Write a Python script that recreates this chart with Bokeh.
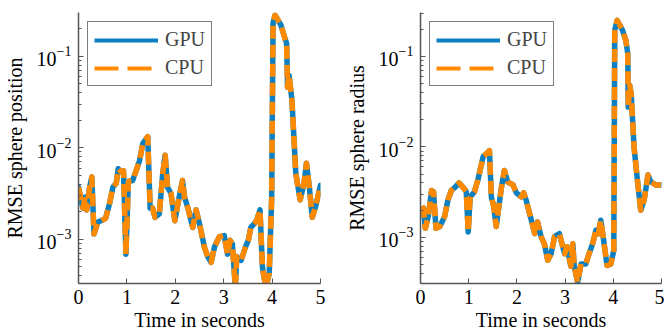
from bokeh.plotting import figure
from bokeh.layouts import row
from bokeh.models import Range1d, FixedTicker, Legend, LegendItem
from bokeh.embed import file_html
from bokeh.resources import INLINE

# ---- data ----
t_pos = [0.00, 0.09, 0.14, 0.17, 0.23, 0.275, 0.32, 0.40, 0.47, 0.56, 0.64, 0.71, 0.78, 0.82,
         0.88, 0.93, 0.98, 1.03, 1.12, 1.26, 1.33, 1.43, 1.48, 1.53, 1.58, 1.67, 1.74, 1.79,
         1.84, 1.91, 1.99, 2.08, 2.15, 2.19, 2.26, 2.36, 2.43, 2.50, 2.60, 2.67, 2.74, 2.81,
         2.91, 3.01, 3.08, 3.13, 3.18, 3.24, 3.27, 3.36, 3.45, 3.51, 3.56, 3.63, 3.68, 3.75,
         3.80, 3.87, 3.94, 3.99, 4.02, 4.06, 4.18, 4.26, 4.30, 4.32, 4.35, 4.41, 4.49, 4.58,
         4.66, 4.71, 4.77, 4.83, 4.90, 5.00]
rmse_pos = [3.7e-3, 2.2e-3, 2.9e-3, 2.1e-3, 3.7e-3, 4.8e-3, 1.15e-3, 1.55e-3, 1.6e-3, 1.7e-3,
            2.45e-3, 3.7e-3, 4.1e-3, 5.9e-3, 5.5e-3, 5.6e-3, 6.9e-4, 4.3e-3, 4.4e-3, 7.2e-3,
            1.12e-2, 1.32e-2, 2.2e-3, 2.2e-3, 1.74e-3, 1.9e-3, 5.2e-3, 8.3e-3, 3.7e-3, 3.2e-3,
            1.6e-3, 2.9e-3, 4.4e-3, 2.9e-3, 2.2e-3, 1.35e-3, 2.1e-3, 1.48e-3, 8.3e-4, 6.5e-4,
            5.6e-4, 8.3e-4, 1.07e-3, 1.1e-3, 6.9e-4, 9.8e-4, 8.9e-4, 3.0e-4, 6.5e-4, 5.9e-4,
            8.3e-4, 9.8e-4, 1.35e-3, 1.48e-3, 1.6e-3, 2.1e-3, 5.0e-4, 3.0e-4, 4.2e-4, 2.7e-3,
            0.23, 0.28, 0.22, 0.16, 0.138, 0.046, 0.062, 0.033, 5.2e-3, 2.7e-3,
            4.1e-3, 6.8e-3, 3.7e-3, 1.74e-3, 2.3e-3, 3.9e-3]

t_rad = [0.00, 0.06, 0.10, 0.16, 0.23, 0.27, 0.32, 0.40, 0.50, 0.57, 0.64, 0.72, 0.80, 0.88,
         0.95, 0.99, 1.03, 1.12, 1.19, 1.30, 1.40, 1.43, 1.47, 1.52, 1.57, 1.68, 1.74, 1.81,
         1.92, 1.99, 2.09, 2.14, 2.19, 2.30, 2.37, 2.43, 2.50, 2.57, 2.64, 2.71, 2.78, 2.88,
         2.99, 3.04, 3.12, 3.16, 3.19, 3.26, 3.33, 3.43, 3.48, 3.57, 3.64, 3.69, 3.74, 3.80,
         3.87, 3.95, 4.01, 4.03, 4.08, 4.19, 4.26, 4.30, 4.31, 4.34, 4.37, 4.43, 4.50, 4.57,
         4.64, 4.72, 4.78, 4.88, 4.99]
rmse_rad = [2.0e-3, 2.1e-3, 1.26e-3, 1.7e-3, 3.3e-3, 3.2e-3, 1.26e-3, 1.32e-3, 1.7e-3, 2.6e-3,
            3.3e-3, 3.6e-3, 4.0e-3, 3.6e-3, 3.2e-3, 1.15e-3, 2.8e-3, 3.2e-3, 4.3e-3, 7.8e-3,
            8.7e-3, 9.1e-3, 2.8e-3, 2.2e-3, 1.32e-3, 3.6e-3, 5.5e-3, 4.1e-3, 3.8e-3, 3.1e-3,
            2.8e-3, 3.1e-3, 2.6e-3, 1.55e-3, 1.1e-3, 1.48e-3, 1.02e-3, 8.5e-4, 5.6e-4, 6.6e-4,
            1.02e-3, 1.1e-3, 6.6e-4, 7.9e-4, 4.8e-4, 8.5e-4, 4.8e-4, 3.2e-4, 5.1e-4, 5.1e-4,
            6.2e-4, 8.5e-4, 1.2e-3, 1.1e-3, 1.55e-3, 9.3e-4, 4.9e-4, 5.1e-4, 7.2e-4, 0.195,
            0.25, 0.195, 0.15, 0.107, 0.0275, 0.048, 0.039, 0.010, 4.3e-3, 2.0e-3,
            2.6e-3, 4.9e-3, 4.1e-3, 3.8e-3, 3.8e-3]

x_ticks = [0, 1, 2, 3, 4, 5]
y_ticks = [1e-3, 1e-2, 1e-1]
series_labels = ["GPU", "CPU"]
x_label = "Time in seconds"
y_labels = ["RMSE sphere position", "RMSE sphere radius"]

BLUE = "#0a80c2"
ORANGE = "#ff8a00"
FONT = "Liberation Serif"
AXIS_COLOR = "#555555"

minor = [k * 10.0 ** d for d in range(-4, 0) for k in range(2, 10)]


def make_plot(t, v, ylabel, ylo, yhi, border_left, border_right, fw):
    p = figure(frame_width=fw, frame_height=271,
               x_range=Range1d(0, 5), y_range=Range1d(ylo, yhi),
               y_axis_type="log", output_backend="svg", toolbar_location=None,
               min_border_left=border_left, min_border_right=border_right,
               min_border_top=12, min_border_bottom=50)
    p.outline_line_color = None
    p.xgrid.visible = False
    p.ygrid.visible = False
    p.background_fill_color = "white"
    # an off-screen x range, used only by the legend sample glyphs
    p.extra_x_ranges = {"legend_only": Range1d(1000, 1001)}

    p.line(t, v, color=BLUE, line_width=5.5, line_join="round", line_cap="round")
    p.line(t, v, color=ORANGE, line_width=5.5, line_join="round", line_dash="13 6")

    # legend sample glyphs: same data, mapped off-screen, thinner with longer dashes
    lg_gpu = p.line(t, v, color=BLUE, line_width=4, x_range_name="legend_only")
    lg_cpu = p.line(t, v, color=ORANGE, line_width=4, line_dash="24 9",
                    x_range_name="legend_only")

    p.xaxis.ticker = FixedTicker(ticks=x_ticks)
    p.yaxis.ticker = FixedTicker(ticks=y_ticks, minor_ticks=minor)

    for ax in (p.xaxis, p.yaxis):
        ax.axis_line_color = AXIS_COLOR
        ax.axis_line_width = 1.5
        ax.major_tick_line_color = AXIS_COLOR
        ax.minor_tick_line_color = AXIS_COLOR
        ax.major_tick_in = 5
        ax.major_tick_out = 0
        ax.minor_tick_in = 3
        ax.minor_tick_out = 0
        ax.major_label_text_font = FONT
        ax.major_label_text_font_size = "20px"
        ax.major_label_text_color = "black"
        ax.axis_label_text_font = FONT
        ax.axis_label_text_font_size = "20px"
        ax.axis_label_text_font_style = "normal"
        ax.axis_label_text_color = "black"
    p.xaxis.minor_tick_line_color = None
    p.xaxis.major_label_standoff = 6
    p.xaxis.axis_label_standoff = 2
    p.yaxis.major_label_standoff = 7
    p.yaxis.axis_label_standoff = 8
    p.xaxis.axis_label = x_label
    p.yaxis.axis_label = ylabel

    lg = Legend(items=[LegendItem(label=series_labels[0], renderers=[lg_gpu]),
                       LegendItem(label=series_labels[1], renderers=[lg_cpu])])
    lg.location = "top_left"
    lg.margin = 9
    lg.padding = 6
    lg.spacing = 5
    lg.glyph_width = 64
    lg.glyph_height = 20
    lg.label_height = 20
    lg.label_standoff = 7
    lg.label_text_font = FONT
    lg.label_text_font_size = "20px"
    lg.border_line_color = "black"
    lg.border_line_width = 1.2
    lg.background_fill_color = "white"
    lg.background_fill_alpha = 1.0
    p.add_layout(lg, "center")
    return p


p1 = make_plot(t_pos, rmse_pos, y_labels[0], 3.3e-4, 0.30, 71, 17, 242)
p2 = make_plot(t_rad, rmse_rad, y_labels[1], 3.1e-4, 0.305, 83, 3, 241)
p = row(p1, p2)

open("out.html", "w").write(file_html(p, INLINE))
